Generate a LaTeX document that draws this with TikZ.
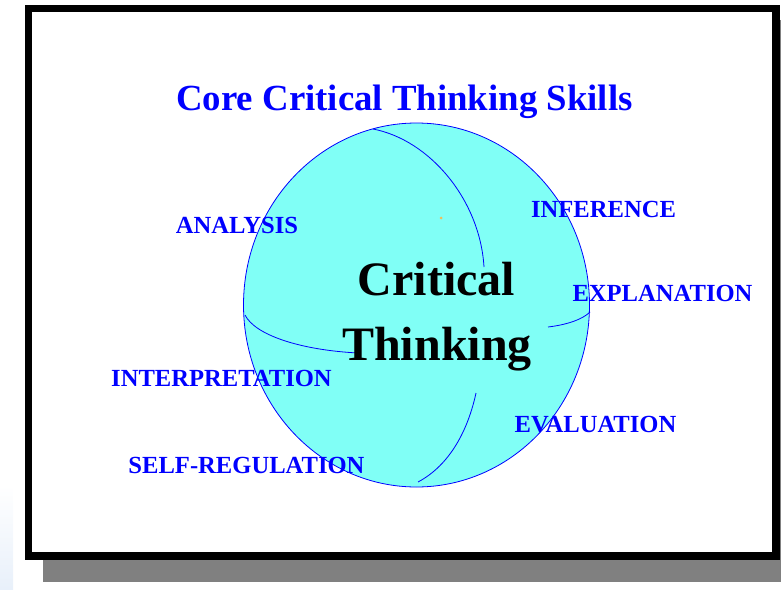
\documentclass[tikz,border=0pt]{standalone}
\usepackage{fontspec}
\setmainfont{Liberation Serif}
\usepackage{tikz}

\definecolor{ballcyan}{RGB}{128,255,246}
\definecolor{shadowgray}{RGB}{128,128,128}
\definecolor{paleblue}{RGB}{232,240,250}
\definecolor{speck}{RGB}{240,190,90}

\tikzset{
  skill/.style={text=blue, font=\bfseries\fontsize{24.6}{28}\selectfont, anchor=base, inner sep=0pt},
  centre/.style={text=black, font=\bfseries\fontsize{48}{52}\selectfont, anchor=base, inner sep=0pt},
  seam/.style={blue, line width=0.8pt}
}

\begin{document}
\begin{tikzpicture}[x=1pt,y=-1pt]

    \useasboundingbox (0,0) rectangle (781,589);

    % faint strip on the left
    \shade[top color=white, bottom color=paleblue] (0,485) rectangle (13,589);

    % shadow and frame
    \fill[shadowgray] (43,20) rectangle (800,582);
    \draw[line width=7.5pt, fill=white] (28.5,8.5) rectangle (776,556);

    % title
    \node[text=blue, font=\bfseries\fontsize{36.8}{40}\selectfont, anchor=base, inner sep=0pt]
        (title) at (404.5,110) {Core Critical Thinking Skills};

    % the ball
    \draw[blue, line width=0.8pt, fill=ballcyan] (416.5,305) ellipse [x radius=173pt, y radius=182pt];
    \fill[speck] (441,218) circle[radius=1.5pt];

    % seams
    \draw[seam] (373,129) .. controls (430,140) and (480,200) .. (484,267);
    \draw[seam] (245,315) .. controls (255,335) and (300,350) .. (358,353);
    \draw[seam] (548,327) .. controls (565,325) and (582,320) .. (590,312);
    \draw[seam] (476,393) .. controls (468,430) and (450,465) .. (418,482);

    % centre text
    \node[centre] (critical) at (436.5,295) {Critical};
    \node[centre] (thinking) at (437,360) {Thinking};

    % skills
    \node[skill] (analysis)       at (237,233)   {ANALYSIS};
    \node[skill] (inference)      at (603.5,217) {INFERENCE};
    \node[skill] (explanation)    at (662.5,301) {EXPLANATION};
    \node[skill] (interpretation) at (221.5,386) {INTERPRETATION};
    \node[skill] (evaluation)     at (595.5,432) {EVALUATION};
    \node[skill] (selfregulation) at (246.5,473) {SELF-REGULATION};

\end{tikzpicture}
\end{document}
